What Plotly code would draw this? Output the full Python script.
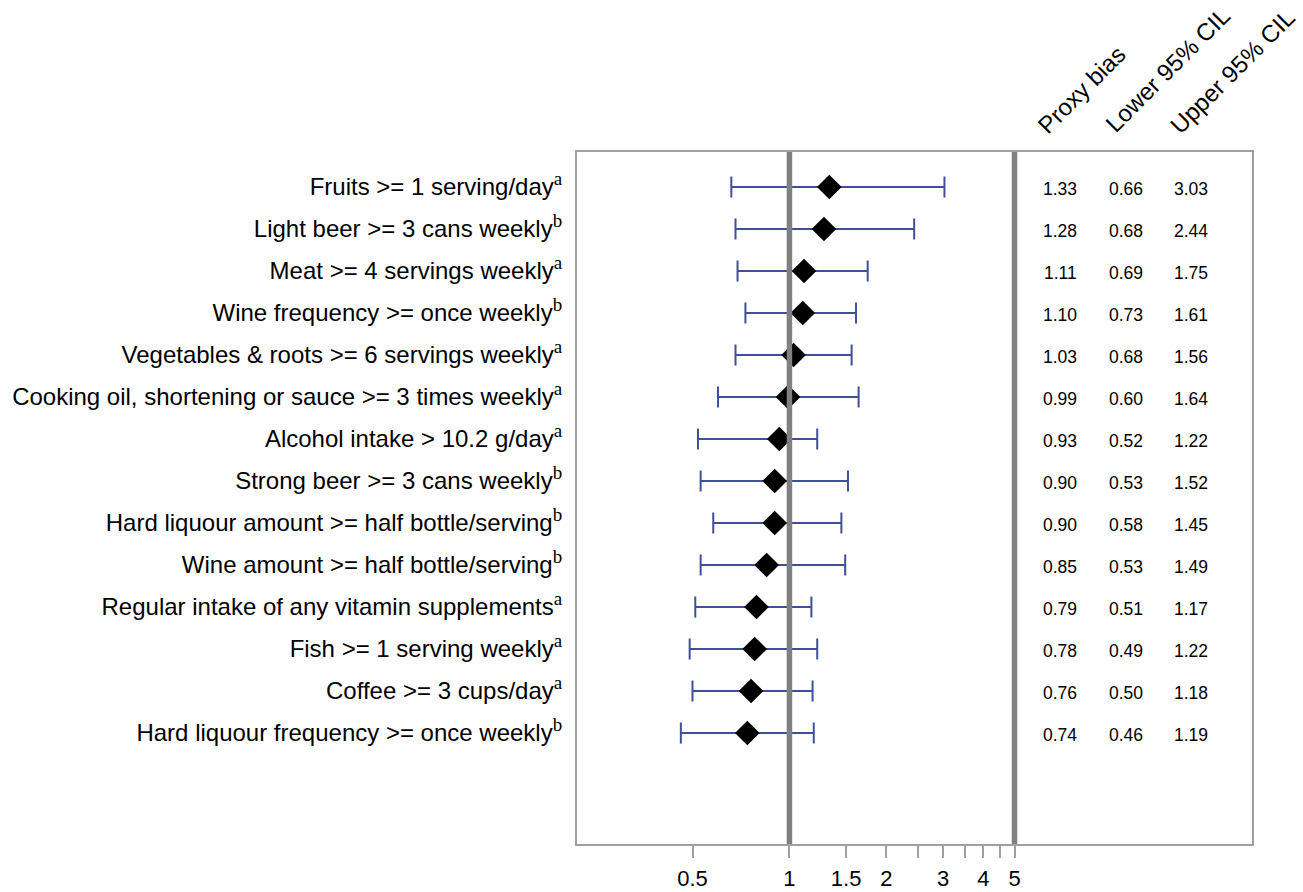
import math
import plotly.graph_objects as go

labels = [
    "Fruits >= 1 serving/day",
    "Light beer >= 3 cans weekly",
    "Meat >= 4 servings weekly",
    "Wine frequency >= once weekly",
    "Vegetables & roots >= 6 servings weekly",
    "Cooking oil, shortening or sauce >= 3 times weekly",
    "Alcohol intake > 10.2 g/day",
    "Strong beer >= 3 cans weekly",
    "Hard liquour amount >= half bottle/serving",
    "Wine amount >= half bottle/serving",
    "Regular intake of any vitamin supplements",
    "Fish >= 1 serving weekly",
    "Coffee >= 3 cups/day",
    "Hard liquour frequency >= once weekly",
]
notes = ["a", "b", "a", "b", "a", "a", "a", "b", "b", "b", "a", "a", "a", "b"]
proxy_bias = [1.33, 1.28, 1.11, 1.10, 1.03, 0.99, 0.93, 0.90, 0.90, 0.85, 0.79, 0.78, 0.76, 0.74]
lower_ci = [0.66, 0.68, 0.69, 0.73, 0.68, 0.60, 0.52, 0.53, 0.58, 0.53, 0.51, 0.49, 0.50, 0.46]
upper_ci = [3.03, 2.44, 1.75, 1.61, 1.56, 1.64, 1.22, 1.52, 1.45, 1.49, 1.17, 1.22, 1.18, 1.19]
col_headers = ["Proxy bias", "Lower 95% CIL", "Upper 95% CIL"]
tick_vals = [0.5, 1, 1.5, 2, 2.5, 3, 3.5, 4, 4.5, 5]
tick_text = ["0.5", "1", "1.5", "2", "", "3", "", "4", "", "5"]
ref_lines = [1, 5]

rows = list(range(1, len(labels) + 1))
ticklabels = [
    f"{l}<sup><span style='font-family:Liberation Serif;font-size:19px'>{n}</span></sup>"
    for l, n in zip(labels, notes)
]

W, H = 1303, 892
ML, MR, MT, MB = 577, 51, 152, 48
PW = W - ML - MR
PH = H - MT - MB

fig = go.Figure()

fig.add_trace(go.Scatter(
    x=proxy_bias, y=rows, mode="markers",
    marker=dict(symbol="diamond", size=19, color="black", line=dict(width=0)),
    error_x=dict(type="data", symmetric=False,
                 array=[u - v for u, v in zip(upper_ci, proxy_bias)],
                 arrayminus=[v - l for v, l in zip(proxy_bias, lower_ci)],
                 color="#3F4F9A", thickness=2, width=10.5),
    showlegend=False, hoverinfo="skip",
))

# invisible trace to activate x2 axis
fig.add_trace(go.Scatter(x=[1, 2, 3], y=[1, 1, 1], xaxis="x2", mode="markers",
                         marker=dict(opacity=0), showlegend=False, hoverinfo="skip"))

cols = [proxy_bias, lower_ci, upper_ci]
for i, vals in enumerate(cols):
    for r, v in zip(rows, vals):
        fig.add_annotation(text=f"{v:.2f}", xref="x2", yref="y", x=i + 1, y=r,
                           xanchor="center", yanchor="middle", yshift=-2,
                           showarrow=False,
                           font=dict(size=17.5, color="black", family="Liberation Sans"))

for v in ref_lines:
    fig.add_shape(type="line", xref="x", yref="paper", x0=v, x1=v, y0=0, y1=1,
                  line=dict(color="#808080", width=5.5), layer="above")

# header annotations (rotated)
hdr_pos = [(1082, 90), (1168, 70), (1232, 71)]
for txt, (px, py) in zip(col_headers, hdr_pos):
    fig.add_annotation(text=txt, xref="paper", yref="paper",
                       x=(px - ML) / PW, y=(H - MB - py) / PH,
                       xanchor="center", yanchor="middle", showarrow=False,
                       textangle=-45,
                       font=dict(size=24, color="black", family="Liberation Sans"))

r0 = math.log10(0.5) - (692.5 - ML) / 322.0
r1 = r0 + PW / 322.0
c_sp = 65.5
x2_0 = 1 - (1060 - ML) / c_sp
x2_1 = x2_0 + PW / c_sp

fig.update_layout(
    width=W, height=H,
    margin=dict(l=ML, r=MR, t=MT, b=MB, pad=0, autoexpand=False),
    paper_bgcolor="white", plot_bgcolor="white",
    font=dict(family="Liberation Sans", color="black"),
    xaxis=dict(type="log", range=[r0, r1], tickvals=tick_vals, ticktext=tick_text,
               ticks="outside", ticklen=12, tickwidth=2, tickcolor="#A0A0A0",
               showgrid=False, zeroline=False, showline=True, mirror=True,
               linecolor="#A0A0A0", linewidth=2, automargin=False,
               tickfont=dict(size=22, color="black"), ticklabelstandoff=2),
    xaxis2=dict(overlaying="x", range=[x2_0, x2_1], visible=False, showgrid=False,
                zeroline=False, automargin=False),
    yaxis=dict(range=[14 + 111 / 42, 1 - 35 / 42], tickvals=rows, ticktext=ticklabels,
               showgrid=False, zeroline=False, showline=True, mirror=True,
               linecolor="#A0A0A0", linewidth=2, ticks="", automargin=False,
               tickfont=dict(size=24, color="black"), ticklabelstandoff=8),
)

fig.write_html("out.html")
